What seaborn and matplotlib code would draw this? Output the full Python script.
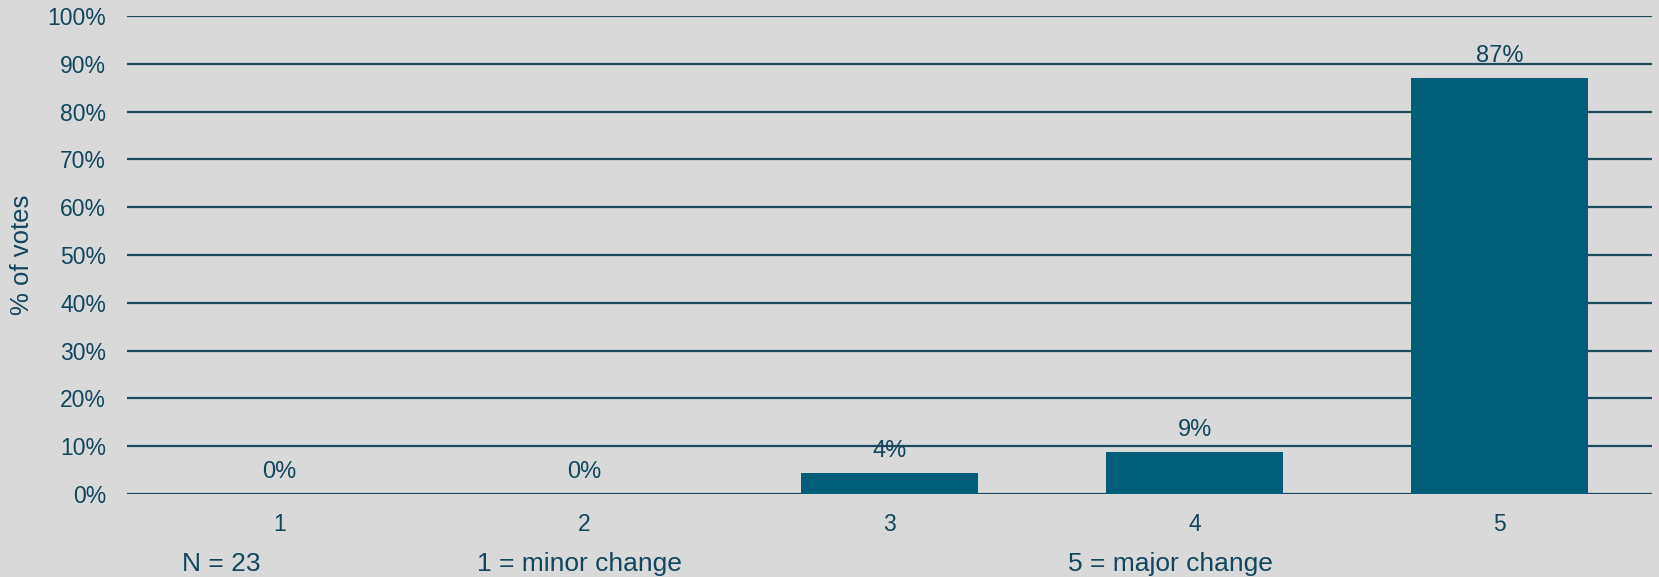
import matplotlib
matplotlib.use('Agg')
import matplotlib.pyplot as plt
import seaborn as sns
import pandas as pd
from matplotlib.ticker import PercentFormatter

# Dados
categories = ['1', '2', '3', '4', '5']
votes_pct = [0, 0, 4.35, 8.7, 86.96]
bar_labels = ['0%', '0%', '4%', '9%', '87%']
y_ticks = [0, 10, 20, 30, 40, 50, 60, 70, 80, 90, 100]
notes = ['N = 23', '1 = minor change', '5 = major change']

bg = '#d9d9d9'
bar_color = '#005e78'
text_color = '#12465d'
grid_color = '#1b4a5e'

df = pd.DataFrame({'score': categories, 'pct': votes_pct})

sns.set_style('white')
plt.rcParams['font.family'] = ['Liberation Sans', 'DejaVu Sans']

fig = plt.figure(figsize=(16.59, 5.77), dpi=100, facecolor=bg)
ax = fig.add_axes([0.0766, 0.1438, 0.9192, 0.8285], facecolor=bg)

sns.barplot(x='score', y='pct', data=df, color=bar_color, width=0.58,
            saturation=1, linewidth=0, ax=ax, zorder=3)

ax.set_ylim(0, 100)
ax.set_xlim(-0.5, 4.5)
ax.set_yticks(y_ticks)
ax.yaxis.set_major_formatter(PercentFormatter(decimals=0))
ax.grid(axis='y', color=grid_color, linewidth=1.6, zorder=1)
ax.set_axisbelow(True)
for s in ax.spines.values():
    s.set_visible(False)

ax.tick_params(axis='both', length=0, labelsize=16.5, colors=text_color)
ax.tick_params(axis='y', pad=15)
ax.tick_params(axis='x', pad=14)
ax.set_xlabel('')
ax.set_ylabel('% of votes', fontsize=18.5, color=text_color, labelpad=10)

ax.bar_label(ax.containers[0], labels=bar_labels, padding=8,
             fontsize=17, color=text_color)

for x, t in zip([0.1097, 0.2875, 0.644], notes):
    fig.text(x, 0.022, t, fontsize=19, color=text_color, ha='left', va='center')

fig.savefig('out.png', dpi=100, facecolor=bg)
